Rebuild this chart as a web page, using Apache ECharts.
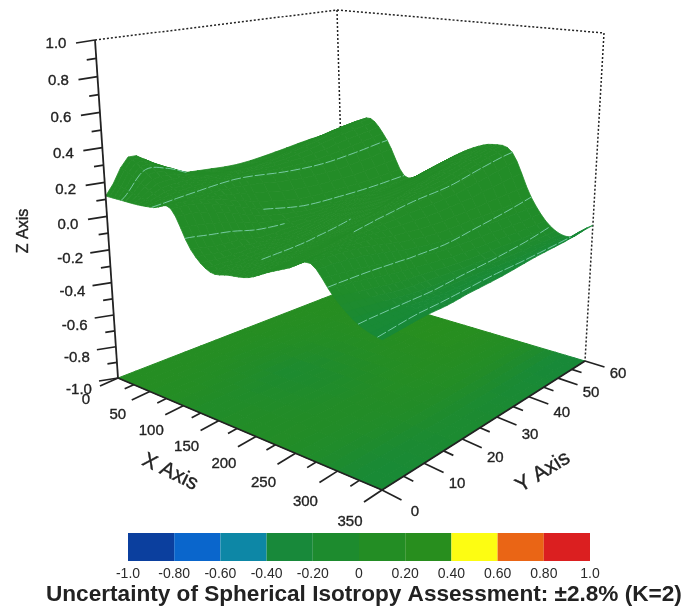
<!DOCTYPE html>
<html>
<head>
<meta charset="utf-8">
<style>html,body{margin:0;padding:0;background:#fff}#c{width:686px;height:609px}</style>
<script src="https://cdn.jsdelivr.net/npm/echarts@6/dist/echarts.min.js"></script>
</head>
<body>
<div id="c"></div>
<script>
// ---------- data ----------
const xValues = [0,25,50,75,100,125,150,175,200,225,250,275,300,325,350];
const yValues = [0,5,10,15,20,30,40,50,60];
const zAtY0  = [.12,.12,.12,.13,.15,-.05,-.144,-.13,-.11,-.05,.005,.06,-.08,-.18,-.22];
const zAtY5  = [.316,.26,.18,.14,.14,-.07,-.14,-.12,-.10,-.04,.02,.06,-.10,-.19,-.21];
const zAtY10 = [.25,.24,.19,.15,.10,-.08,-.13,-.11,-.08,-.02,.04,.05,-.12,-.20,-.20];
const zAtY15 = [.16,.18,.18,.16,.05,-.10,-.12,-.10,-.06,.0,.07,.03,-.14,-.21,-.20];
const zAtY20 = [.14,.15,.17,.16,.0,-.10,-.11,-.08,-.04,.03,.09,.0,-.15,-.22,-.19];
const zAtY30 = [.12,.14,.18,.13,-.05,-.09,-.07,-.03,.03,.11,.12,-.03,-.17,-.22,-.18];
const zAtY40 = [.14,.18,.22,.12,-.06,-.07,-.03,.03,.10,.17,.14,-.03,-.18,-.23,-.16];
const zAtY50 = [.17,.22,.27,.14,-.06,-.05,.02,.09,.16,.22,.19,-.03,-.19,-.23,-.15];
const zAtY60 = [.185,.25,.30,.17,-.05,-.02,.065,.15,.22,.26,.23,-.03,-.19,-.23,-.13];
const surfaceZ = [zAtY0,zAtY5,zAtY10,zAtY15,zAtY20,zAtY30,zAtY40,zAtY50,zAtY60];
const surfaceTone = [.1,.1,.1,.1,.1,.1,.1,.1,.1,.1,.1,.08,.02,-.2,-.25];
const floorX = [25,75,125,175,225,275,325];
const floorY = [7,22,37,52];
const floorBand0 = [.18,.14,.05,.08,.1,.0,-.2];
const floorBand1 = [.18,.08,-.1,-.02,.1,.08,-.1];
const floorBand2 = [.2,.15,.12,.16,.18,.12,-.15];
const floorBand3 = [.22,.22,.24,.26,.22,.1,-.25];
const floorTone = [floorBand0,floorBand1,floorBand2,floorBand3];
const meshLineStartX = [25,72,118,165,100,245,293,325,345];
const meshLineEndX   = [25,75,118,190,100,250,275,300,325];
const meshLineFromY  = [0,0,0,8,20,15,0,0,0];
const meshLineToY    = [14,60,22,28,60,60,60,60,60];
const xTicks = [0,50,100,150,200,250,300,350];
const yTicks = [0,10,20,30,40,50,60];
const zTicks = [-1,-.8,-.6,-.4,-.2,0,.2,.4,.6,.8,1];
const zTickLabels = ['-1.0','-0.8','-0.6','-0.4','-0.2','0.0','0.2','0.4','0.6','0.8','1.0'];
const colorbarEdges = [-1,-.8,-.6,-.4,-.2,0,.2,.4,.6,.8,1];
const colorbarColors = ['#0b3f9e','#0a66cc','#0d87a6','#18893a','#1d8b2e','#238d24','#288e1e','#fdfd12','#ea6515','#db1f20'];
const colorbarLabels = ['-1.0','-0.80','-0.60','-0.40','-0.20','0','0.20','0.40','0.60','0.80','1.0'];
const titleText = 'Uncertainty of Spherical Isotropy Assessment: \u00b12.8% (K=2)';

// ---------- oblique perspective view of the box ----------
const xMax = 350, yMax = 60, persp = 0.0836;
function squareToQuad(A,B,C,D){
  const dx1=B[0]-C[0],dy1=B[1]-C[1],dx2=D[0]-C[0],dy2=D[1]-C[1];
  const sx=A[0]-B[0]+C[0]-D[0],sy=A[1]-B[1]+C[1]-D[1];
  const det=dx1*dy2-dy1*dx2;
  const g=(sx*dy2-sy*dx2)/det,h=(dx1*sy-dy1*sx)/det;
  return {a:B[0]-A[0]+g*B[0],b:D[0]-A[0]+h*D[0],c:A[0],d:B[1]-A[1]+g*B[1],e:D[1]-A[1]+h*D[1],f:A[1],g,h};
}
const floorView = squareToQuad([118,378],[382,490],[585,361],[345,290]);
const ceilView  = squareToQuad([95,40],[383,83],[604,33],[337,10]);
function viewPoint(m,u,v){
  const w=m.g*u+m.h*v+1;
  return [(m.a*u+m.b*v+m.c)/w,(m.d*u+m.e*v+m.f)/w];
}
function project(x,y,z){
  const u=x/xMax,v=y/yMax,zn=(z+1)/2,s=zn*(1-persp)/(1-persp*zn);
  const b=viewPoint(floorView,u,v),t=viewPoint(ceilView,u,v);
  return [b[0]+(t[0]-b[0])*s,b[1]+(t[1]-b[1])*s];
}
function bracket(arr,val){
  let i=0; while(i<arr.length-2 && val>arr[i+1]) i++;
  return i+(val-arr[i])/(arr[i+1]-arr[i]);
}
function spline(p0,p1,p2,p3,t){
  return .5*(2*p1+(p2-p0)*t+(2*p0-5*p1+4*p2-p3)*t*t+(3*p1-p0-3*p2+p3)*t*t*t);
}
// display smoothing of the read grid, the surface counterpart of a smooth line
function surfaceAtIndex(fi,fj){
  const nI=xValues.length-1,nJ=yValues.length-1;
  const i=Math.min(Math.floor(fi),nI-1),j=Math.min(Math.floor(fj),nJ-1),tx=fi-i,ty=fj-j;
  const rowVal=(r)=>{const R=surfaceZ[Math.max(0,Math.min(nJ,r))];
    return spline(R[Math.max(0,i-1)],R[i],R[i+1],R[Math.min(nI,i+2)],tx);};
  return spline(rowVal(j-1),rowVal(j),rowVal(j+1),rowVal(j+2),ty);
}
function surfaceAt(x,y){ return surfaceAtIndex(bracket(xValues,x),bracket(yValues,y)); }
function xAtIndex(fi){ const i=Math.min(Math.floor(fi),xValues.length-2);return xValues[i]+(xValues[i+1]-xValues[i])*(fi-i); }
function yAtIndex(fj){ const j=Math.min(Math.floor(fj),yValues.length-2);return yValues[j]+(yValues[j+1]-yValues[j])*(fj-j); }
function surfacePoint(fi,fj){ return project(xAtIndex(fi),yAtIndex(fj),surfaceAtIndex(fi,fj)); }
function toneColor(v){
  return echarts.color.lerp(Math.max(0,Math.min(1,(v+.4)/.8)),['#13883f','#2c8f18']);
}
function toneAtX(fi){
  const i=Math.min(Math.floor(fi),surfaceTone.length-2);
  return surfaceTone[i]+(surfaceTone[i+1]-surfaceTone[i])*(fi-i);
}
function floorToneAt(x,y){
  const cl=(a,v)=>Math.max(a[0],Math.min(a[a.length-1],v));
  const fi=bracket(floorX,cl(floorX,x)),fj=bracket(floorY,cl(floorY,y));
  const i=Math.min(Math.floor(fi),floorX.length-2),j=Math.min(Math.floor(fj),floorY.length-2),tx=fi-i,ty=fj-j;
  const A=floorTone[j],B=floorTone[j+1];
  return (A[i]*(1-tx)+A[i+1]*tx)*(1-ty)+(B[i]*(1-tx)+B[i+1]*tx)*ty;
}

// ---------- mark lists ----------
const surfStepsX=4,surfStepsY=3;
const surfaceCells=[];
for(let a=0;a<(xValues.length-1)*surfStepsX;a++)
  for(let b=(yValues.length-1)*surfStepsY-1;b>=0;b--) surfaceCells.push([a/surfStepsX,b/surfStepsY]);
const floorDivX=28,floorDivY=16;
const floorCells=[];
for(let a=0;a<floorDivX;a++) for(let b=0;b<floorDivY;b++) floorCells.push([a,b]);
const meshSegments=meshLineStartX.map((_,k)=>[k]);
const boxEdges=[[0,0,1,0,yMax,1],[0,yMax,1,xMax,yMax,1],[0,yMax,1,0,yMax,.12],[xMax,yMax,1,xMax,yMax,-1]];
const axisEdges=[[0,0,1,0,0,-1],[0,0,-1,xMax,0,-1],[xMax,0,-1,xMax,yMax,-1]];
const minorX=[],minorY=[],minorZ=[];
for(let i=0;i<xTicks.length-1;i++) minorX.push((xTicks[i]+xTicks[i+1])/2);
for(let i=0;i<yTicks.length-1;i++) minorY.push((yTicks[i]+yTicks[i+1])/2);
for(let i=0;i<zTicks.length-1;i++) minorZ.push((zTicks[i]+zTicks[i+1])/2);

const ink='#222';
const labelFont={fontFamily:'Liberation Sans',fontSize:15,fill:ink,align:'center',verticalAlign:'middle',stroke:ink,lineWidth:.35};
function line(a,b,w,dash){
  return {type:'line',shape:{x1:a[0],y1:a[1],x2:b[0],y2:b[1]},style:{stroke:ink,lineWidth:w,lineDash:dash||null}};
}
function xTickGroup(x,major){
  const p=project(x,0,-1),u=x/xMax,k=major?1:.5;
  return line(p,[p[0]-18*k,p[1]+(8+4*u)*k],1.7);
}
function yTickGroup(y,major){
  const p=project(xMax,y,-1),v=y/yMax,k=major?1:.5;
  return line(p,[p[0]+19.5*k,p[1]+(10-4*v)*k],1.7);
}
function zTickGroup(z,major){
  const p=project(0,0,z),k=major?1:.5;
  return line(p,[p[0]-19*k,p[1]+3*k],1.7);
}
function textAt(t,x,y,extra){
  return {type:'text',x:x,y:y,rotation:(extra&&extra.rotation)||0,style:Object.assign({text:t},labelFont,extra&&extra.style)};
}

const option={
  animation:false,
  backgroundColor:'#fff',
  title:{text:titleText,left:46,top:583,padding:0,itemGap:0,
    textStyle:{fontFamily:'Liberation Sans',fontWeight:'bold',fontSize:22.6,color:'#222'}},
  grid:{left:128,top:533,width:462,height:28,containLabel:false},
  xAxis:{type:'value',min:-1,max:1,interval:.2,axisLine:{show:false},axisTick:{show:false},splitLine:{show:false},
    axisLabel:{margin:6,fontFamily:'Liberation Sans',fontSize:14,color:'#2a2a2a',hideOverlap:false,showMinLabel:true,showMaxLabel:true,
      formatter:(v,i)=>colorbarLabels[i]}},
  yAxis:{type:'value',min:0,max:1,show:false},
  series:[
    {type:'custom',coordinateSystem:'none',silent:true,z:1,data:boxEdges,
      renderItem:(p)=>{const e=boxEdges[p.dataIndex];
        return line(project(e[0],e[1],e[2]),project(e[3],e[4],e[5]),1.5,[2,2]);}},
    {type:'custom',coordinateSystem:'none',silent:true,z:2,data:floorCells,
      renderItem:(p)=>{const [a,b]=floorCells[p.dataIndex];
        const x0=xMax*a/floorDivX,x1=xMax*(a+1)/floorDivX,y0=yMax*b/floorDivY,y1=yMax*(b+1)/floorDivY;
        const c=toneColor(floorToneAt((x0+x1)/2,(y0+y1)/2));
        return {type:'polygon',shape:{points:[project(x0,y0,-1),project(x1,y0,-1),project(x1,y1,-1),project(x0,y1,-1)]},style:{fill:c,stroke:c,lineWidth:1}};}},
    {type:'custom',coordinateSystem:'none',silent:true,z:3,data:surfaceCells,
      renderItem:(p)=>{const [fi,fj]=surfaceCells[p.dataIndex],di=1/surfStepsX,dj=1/surfStepsY;
        const c=toneColor(toneAtX(fi+di/2));
        return {type:'polygon',shape:{points:[surfacePoint(fi,fj),surfacePoint(fi+di,fj),surfacePoint(fi+di,fj+dj),surfacePoint(fi,fj+dj)]},style:{fill:c,stroke:c,lineWidth:.8}};}},
    {type:'custom',coordinateSystem:'none',silent:true,z:4,data:meshSegments,
      renderItem:(p)=>{const k=p.dataIndex,pts=[],n=24;
        for(let t=0;t<=n;t++){
          const y=meshLineFromY[k]+(meshLineToY[k]-meshLineFromY[k])*t/n;
          const x=meshLineStartX[k]+(meshLineEndX[k]-meshLineStartX[k])*y/yMax;
          pts.push(project(x,y,surfaceAt(x,y)));
        }
        return {type:'polyline',shape:{points:pts},style:{fill:null,stroke:'#7fd0b0',lineWidth:1,lineDash:[10,2],opacity:.9}};}},
    {type:'custom',coordinateSystem:'none',silent:true,z:5,data:axisEdges,
      renderItem:(p)=>{const e=axisEdges[p.dataIndex];
        return line(project(e[0],e[1],e[2]),project(e[3],e[4],e[5]),1.8);}},
    {type:'custom',coordinateSystem:'none',silent:true,z:5,data:xTicks,
      renderItem:(p)=>{const x=xTicks[p.dataIndex],b=project(x,0,-1),u=x/xMax;
        const kids=[xTickGroup(x,true)];
        if(p.dataIndex<minorX.length) kids.push(xTickGroup(minorX[p.dataIndex],false));
        kids.push(textAt(String(x),b[0]-32,b[1]+22+10*u));
        return {type:'group',children:kids};}},
    {type:'custom',coordinateSystem:'none',silent:true,z:5,data:yTicks,
      renderItem:(p)=>{const y=yTicks[p.dataIndex],b=project(xMax,y,-1),v=y/yMax;
        const kids=[yTickGroup(y,true)];
        if(p.dataIndex<minorY.length) kids.push(yTickGroup(minorY[p.dataIndex],false));
        kids.push(textAt(String(y),b[0]+33,b[1]+22-9*v));
        return {type:'group',children:kids};}},
    {type:'custom',coordinateSystem:'none',silent:true,z:5,data:zTicks,
      renderItem:(p)=>{const z=zTicks[p.dataIndex],b=project(0,0,z),zn=(z+1)/2;
        const kids=[zTickGroup(z,true)];
        if(p.dataIndex<minorZ.length) kids.push(zTickGroup(minorZ[p.dataIndex],false));
        kids.push(textAt(zTickLabels[p.dataIndex],b[0]-39,b[1]+4+8*(1-zn)));
        return {type:'group',children:kids};}},
    {type:'custom',coordinateSystem:'none',silent:true,z:6,data:[0],
      renderItem:()=>({type:'group',children:[
        textAt('Z Axis',24,231,{rotation:Math.PI/2,style:{fontSize:16}}),
        textAt('X Axis',170,472,{rotation:-26*Math.PI/180,style:{fontSize:21}}),
        textAt('Y Axis',543,472,{rotation:32*Math.PI/180,style:{fontSize:21}})
      ]})},
    {type:'custom',xAxisIndex:0,yAxisIndex:0,silent:true,z:2,clip:false,
      data:colorbarColors.map((_,i)=>[colorbarEdges[i],colorbarEdges[i+1]]),encode:{x:[0,1]},
      renderItem:(p,api)=>{
        const a=api.coord([api.value(0),1]),b=api.coord([api.value(1),0]);
        return {type:'rect',shape:{x:a[0],y:a[1],width:b[0]-a[0],height:b[1]-a[1]},style:{fill:colorbarColors[p.dataIndex]}};}}
  ]
};
const chart=echarts.init(document.getElementById('c'),null,{renderer:'canvas'});
chart.setOption(option);
</script>
</body>
</html>
